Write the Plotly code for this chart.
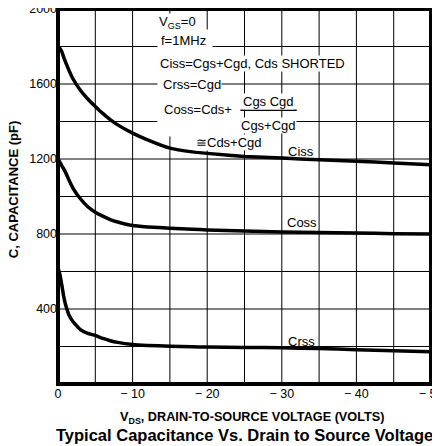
import plotly.graph_objects as go

# ---- data ----
vds = [0, -0.25, -0.5, -0.75, -1, -1.5, -2, -3, -4, -5, -6, -7, -8, -10, -12, -15, -18, -20, -25, -30, -35, -40, -45, -50]
ciss = [1800, 1790, 1773, 1745, 1718, 1670, 1628, 1567, 1520, 1480, 1443, 1410, 1382, 1338, 1302, 1258, 1238, 1230, 1214, 1205, 1196, 1188, 1179, 1170]
coss = [1200, 1183, 1165, 1148, 1130, 1085, 1045, 988, 945, 916, 895, 877, 864, 845, 838, 831, 825, 822, 816, 811, 808, 805, 802, 800]
crss = [620, 585, 530, 470, 425, 365, 333, 290, 270, 259, 243, 231, 222, 211, 206, 202, 199, 197, 195, 193, 189, 183, 177, 172]

x_tickvals = [0, -10, -20, -30, -40, -50]
x_ticktext = ["0", "\u2212 10", "\u2212 20", "\u2212 30", "\u2212 40", "\u2212 50"]
x_gridvals = [-5, -10, -15, -20, -25, -30, -35, -40, -45]
y_tickvals = [400, 800, 1200, 1600, 2000]
y_ticktext = ["400", "800", "1200", "1600", "2000"]
y_gridvals = [200, 400, 600, 800, 1000, 1200, 1400, 1600, 1800]

FONT = "Liberation Sans, Arial, Helvetica, sans-serif"

fig = go.Figure()
for name, vals in [("Ciss", ciss), ("Coss", coss), ("Crss", crss)]:
    fig.add_trace(go.Scatter(x=vds, y=vals, mode="lines", name=name,
                             line=dict(color="black", width=3.5, shape="spline", smoothing=0.3),
                             showlegend=False, hoverinfo="skip"))

axis_common = dict(showgrid=False, zeroline=False, showline=False,
                   automargin=False, ticklabeloverflow="allow",
                   ticks="", tickfont=dict(family=FONT, size=12.5, color="black"))

fig.update_xaxes(range=[0, -50], tickmode="array", tickvals=x_tickvals, ticktext=x_ticktext, **axis_common)
fig.update_yaxes(range=[0, 2000], tickmode="array", tickvals=y_tickvals, ticktext=y_ticktext, **axis_common)

# grid drawn as shapes beneath the curves
for v in x_gridvals:
    fig.add_shape(type="line", xref="x", yref="y domain", x0=v, x1=v, y0=0, y1=1,
                  layer="below", line=dict(color="black", width=1))
for c in y_gridvals:
    fig.add_shape(type="line", xref="x domain", yref="y", x0=0, x1=1, y0=c, y1=c,
                  layer="below", line=dict(color="black", width=1))

# heavy frame around the plot area
fig.add_shape(type="rect", xref="x domain", yref="y domain", x0=0, x1=1, y0=0, y1=1,
              layer="above", line=dict(color="black", width=4), fillcolor="rgba(0,0,0,0)")

# white boxes behind the note block (drawn first, so the texts sit on top)
fig.add_annotation(x=-13.3, y=1895, xref="x", yref="y", xanchor="left", yanchor="top",
                   text=" ", showarrow=False, width=54, height=106, bgcolor="white", borderpad=0)
fig.add_annotation(x=-13.3, y=1560, xref="x", yref="y", xanchor="left", yanchor="top",
                   text=" ", showarrow=False, width=82, height=40, bgcolor="white", borderpad=0)

def note(text, x, y, anchor="left", bg="white", size=13):
    fig.add_annotation(x=x, y=y, xref="x", yref="y", text=text, showarrow=False,
                       xanchor=anchor, yanchor="middle", bgcolor=bg, borderpad=0,
                       font=dict(family=FONT, size=size, color="black"))

note("V<sub>GS</sub>=0", -13.4, 1926)
note("f=1MHz", -13.7, 1830)
note("Ciss=Cgs+Cgd, Cds SHORTED", -13.6, 1712)
note("Crss=Cgd", -13.9, 1600)
note("Coss=Cds+", -14.1, 1463)
note("Cgs Cgd", -28.2, 1505, anchor="center")
note("Cgs+Cgd", -28.2, 1378, anchor="center")
note("\u2245Cds+Cgd", -18.4, 1287)
fig.add_shape(type="line", x0=-24.1, x1=-32.0, y0=1460, y1=1460, line=dict(color="black", width=1.5))

note("Ciss", -30.7, 1242, bg="rgba(0,0,0,0)")
note("Coss", -30.6, 862, bg="rgba(0,0,0,0)")
note("Crss", -30.7, 229, bg="rgba(0,0,0,0)")

# axis titles and caption
fig.add_annotation(x=-0.1206, y=0.517, xref="paper", yref="paper", text="<b>C, CAPACITANCE (pF)</b>",
                   textangle=-90, showarrow=False, xanchor="center", yanchor="middle",
                   font=dict(family=FONT, size=13, color="black"))
fig.add_annotation(x=0.52, y=-0.0907, xref="paper", yref="paper",
                   text="<b>V<sub>DS</sub>, DRAIN-TO-SOURCE VOLTAGE (VOLTS)</b>",
                   showarrow=False, xanchor="center", yanchor="middle",
                   font=dict(family=FONT, size=12.7, color="black"))
fig.add_annotation(x=0.5, y=-0.136, xref="paper", yref="paper",
                   text="<b>Typical Capacitance Vs. Drain to Source Voltage</b>",
                   showarrow=False, xanchor="center", yanchor="middle",
                   font=dict(family=FONT, size=16.5, color="black"))

# the page body keeps its default 8px margin; margins compensate for that offset
fig.update_layout(width=440, height=446, margin=dict(l=50, r=17, t=1, b=70),
                  paper_bgcolor="white", plot_bgcolor="white")

fig.write_html("out.html")
